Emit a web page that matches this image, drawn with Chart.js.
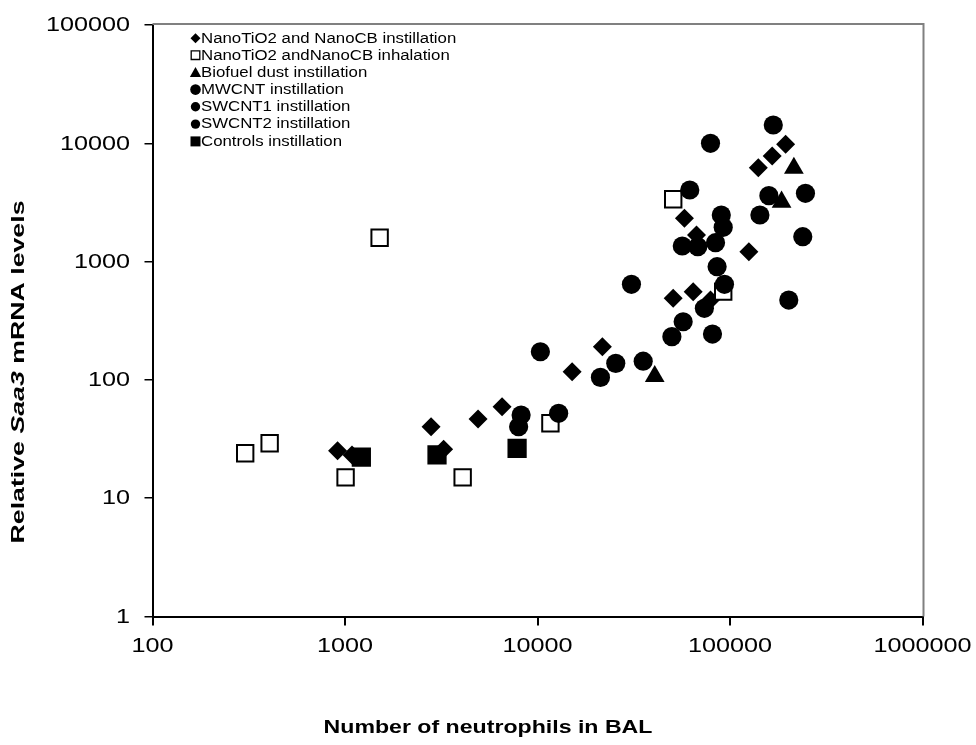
<!DOCTYPE html>
<html>
<head>
<meta charset="utf-8">
<script src="https://cdn.jsdelivr.net/npm/chart.js@4.4.1/dist/chart.umd.min.js"></script>
<style>
  html, body { margin: 0; padding: 0; background: #fff; }
  #c { display: block; }
</style>
</head>
<body>
<canvas id="c" width="976" height="745"></canvas>
<script>
// ---- data ----
const xTickValues = [100, 1000, 10000, 100000, 1000000];
const yTickValues = [1, 10, 100, 1000, 10000, 100000];
const xTitle = "Number of neutrophils in BAL";
const yTitleParts = [["Relative ", ""], ["Saa3", "italic "], [" mRNA levels", ""]];

const seriesLabels = [
  "NanoTiO2 and NanoCB instillation",
  "NanoTiO2 andNanoCB inhalation",
  "Biofuel dust instillation",
  "MWCNT instillation",
  "SWCNT1 instillation",
  "SWCNT2 instillation",
  "Controls instillation"
];

const nanoInstX = [915, 1087, 2800, 3254, 4912, 6546, 15130, 21730, 50700, 64400, 79200, 58000, 67000, 125300, 140300, 165600, 194500];
const nanoInstY = [25.2, 23.2, 40.2, 25.9, 46.7, 59.3, 117, 191, 490, 557, 473, 2323, 1679, 1213, 6220, 7810, 9810];

const nanoInhX = [303, 406, 1007, 1513, 4085, 11670, 50700, 92200];
const nanoInhY = [24.0, 29.1, 15.0, 1592, 15.0, 43, 3365, 557];

const biofuelX = [40640, 185300, 214700];
const biofuelY = [107, 3190, 6180];

const mwcntX = [8220, 7980, 12880, 10350, 21230, 25500, 35400, 30760, 49900];
const mwcntY = [50.5, 40.2, 52.2, 173, 105, 138, 144, 643, 232];

const swcnt1X = [57100, 73600, 81100, 85700, 93600, 202000, 56500, 68000, 84100];
const swcnt1Y = [310, 403, 244, 906, 643, 473, 1355, 1337, 1444];

const swcnt2X = [167800, 79200, 61800, 159200, 246600, 143000, 90100, 92200, 238800];
const swcnt2Y = [14280, 10000, 4030, 3610, 3780, 2478, 2478, 1950, 1623];

const controlsX = [1216, 3006, 7834];
const controlsY = [22.2, 23.2, 26.4];

function pts(xs, ys) { return xs.map((x, i) => ({ x: x, y: ys[i] })); }

const FONT = "'Liberation Sans', Arial, sans-serif";

// legend marker styles
const legendMarkers = [
  { style: 'diamond', fill: '#000', size: 5 },
  { style: 'square', fill: '#fff', size: 4.3, stroke: true },
  { style: 'triangle', fill: '#000', size: 5.6 },
  { style: 'circle', fill: '#000', size: 5.3 },
  { style: 'circle', fill: '#000', size: 4.7 },
  { style: 'circle', fill: '#000', size: 4.7 },
  { style: 'square', fill: '#000', size: 5 }
];

function drawMarker(ctx, m, x, y) {
  ctx.save();
  ctx.fillStyle = m.fill;
  ctx.strokeStyle = '#000';
  ctx.lineWidth = 1.3;
  ctx.beginPath();
  const s = m.size;
  if (m.style === 'diamond') {
    ctx.moveTo(x, y - s); ctx.lineTo(x + s, y); ctx.lineTo(x, y + s); ctx.lineTo(x - s, y); ctx.closePath();
  } else if (m.style === 'square') {
    ctx.rect(x - s, y - s, 2 * s, 2 * s);
  } else if (m.style === 'triangle') {
    ctx.moveTo(x, y - s); ctx.lineTo(x + s, y + s * 0.8); ctx.lineTo(x - s, y + s * 0.8); ctx.closePath();
  } else {
    ctx.arc(x, y, s, 0, Math.PI * 2);
  }
  ctx.fill();
  if (m.stroke) ctx.stroke();
  ctx.restore();
}

function stretchedText(ctx, text, x, y, font, sx, align) {
  ctx.save();
  ctx.font = font;
  ctx.textBaseline = 'middle';
  ctx.textAlign = 'left';
  const w = ctx.measureText(text).width * sx;
  let left = x;
  if (align === 'center') left = x - w / 2;
  else if (align === 'right') left = x - w;
  ctx.translate(left, y);
  ctx.scale(sx, 1);
  ctx.fillText(text, 0, 0);
  ctx.restore();
}

const decorPlugin = {
  id: 'decor',
  beforeDatasetsDraw(chart) {
    const ctx = chart.ctx, a = chart.chartArea;
    ctx.save();
    ctx.strokeStyle = '#808080';
    ctx.lineWidth = 2;
    ctx.beginPath();
    ctx.moveTo(a.left, a.top - 1);
    ctx.lineTo(a.right + 1, a.top - 1);
    ctx.lineTo(a.right + 1, a.bottom);
    ctx.stroke();
    ctx.restore();
  },
  afterDraw(chart) {
    const ctx = chart.ctx;
    const xs = chart.scales.x, ys = chart.scales.y;
    ctx.save();
    ctx.fillStyle = '#000';
    const tickFont = "21px " + FONT;
    xTickValues.forEach(v => {
      stretchedText(ctx, String(v), xs.getPixelForValue(v), 646, tickFont, 1.2, 'center');
    });
    yTickValues.forEach(v => {
      stretchedText(ctx, String(v), 130, ys.getPixelForValue(v) + 0.5, tickFont, 1.2, 'right');
    });
    // x title
    stretchedText(ctx, xTitle, 488, 728, "bold 18.5px " + FONT, 1.25, 'center');
    // y title (rotated, mixed italic)
    ctx.save();
    ctx.translate(19.5, 372);
    ctx.rotate(-Math.PI / 2);
    const sz = 17.7;
    let total = 0;
    const widths = yTitleParts.map(p => {
      ctx.font = "bold " + p[1] + sz + "px " + FONT;
      const w = ctx.measureText(p[0]).width; total += w; return w;
    });
    const sx = 343 / total;
    ctx.scale(sx, 1);
    let cx = -total / 2;
    ctx.textBaseline = 'middle';
    yTitleParts.forEach((p, i) => {
      ctx.font = "bold " + p[1] + sz + "px " + FONT;
      ctx.fillText(p[0], cx, 0);
      cx += widths[i];
    });
    ctx.restore();
    // legend
    const rowY = [38.3, 55.2, 72.5, 89.6, 106.8, 124.1, 141.4];
    seriesLabels.forEach((lab, i) => {
      drawMarker(ctx, legendMarkers[i], 195.5, rowY[i]);
      stretchedText(ctx, lab, 201, rowY[i] + 0.5, "14px " + FONT, 1.2, 'left');
    });
    ctx.restore();
  }
};

const common = { showLine: false, borderColor: '#000', pointHoverRadius: undefined };

new Chart(document.getElementById('c'), {
  type: 'scatter',
  data: {
    datasets: [
      { label: seriesLabels[0], data: pts(nanoInstX, nanoInstY), pointStyle: 'rectRot', radius: 9.5, backgroundColor: '#000', borderWidth: 0, order: 7 },
      { label: seriesLabels[1], data: pts(nanoInhX, nanoInhY), pointStyle: 'rect', radius: 11.6, backgroundColor: '#fff', borderColor: '#000', borderWidth: 2, order: 6 },
      { label: seriesLabels[2], data: pts(biofuelX, biofuelY), pointStyle: 'triangle', radius: 11.4, backgroundColor: '#000', borderWidth: 0, order: 5 },
      { label: seriesLabels[3], data: pts(mwcntX, mwcntY), pointStyle: 'circle', radius: 9.6, backgroundColor: '#000', borderWidth: 0, order: 4 },
      { label: seriesLabels[4], data: pts(swcnt1X, swcnt1Y), pointStyle: 'circle', radius: 9.6, backgroundColor: '#000', borderWidth: 0, order: 3 },
      { label: seriesLabels[5], data: pts(swcnt2X, swcnt2Y), pointStyle: 'circle', radius: 9.6, backgroundColor: '#000', borderWidth: 0, order: 2 },
      { label: seriesLabels[6], data: pts(controlsX, controlsY), pointStyle: 'rect', radius: 13.6, backgroundColor: '#000', borderWidth: 0, order: 1 }
    ]
  },
  options: {
    responsive: false,
    animation: false,
    devicePixelRatio: 1,
    events: [],
    layout: { padding: { left: 0, top: 25, right: 53.5, bottom: 0 } },
    plugins: { legend: { display: false }, tooltip: { enabled: false } },
    scales: {
      x: {
        type: 'logarithmic',
        min: 100, max: 1000000,
        afterBuildTicks: s => { s.ticks = xTickValues.map(v => ({ value: v })); },
        afterFit: s => { s.height = 128.5; },
        ticks: { display: false },
        grid: { display: true, drawOnChartArea: false, drawTicks: true, tickLength: 9, color: '#000', lineWidth: 2 },
        border: { display: true, color: '#000', width: 2 }
      },
      y: {
        type: 'logarithmic',
        min: 1, max: 100000,
        afterBuildTicks: s => { s.ticks = yTickValues.map(v => ({ value: v })); },
        afterFit: s => { s.width = 152.5; },
        ticks: { display: false },
        grid: { display: true, drawOnChartArea: false, drawTicks: true, tickLength: 8, color: '#000', lineWidth: 1.5 },
        border: { display: true, color: '#000', width: 2 }
      }
    }
  },
  plugins: [decorPlugin]
});
</script>
</body>
</html>
